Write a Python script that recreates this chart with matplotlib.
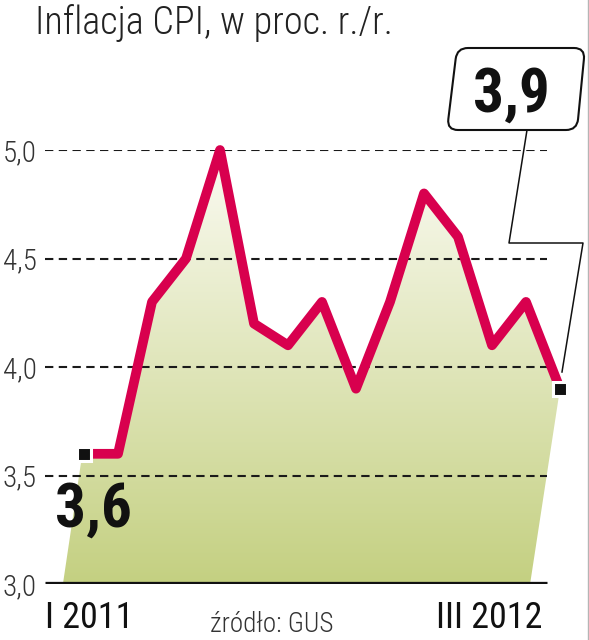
import numpy as np
import matplotlib.pyplot as plt
from matplotlib.colors import LinearSegmentedColormap
from matplotlib.patches import Polygon, PathPatch
from matplotlib.path import Path
from matplotlib.lines import Line2D

# CPI inflation y/y, I 2011 - III 2012 (source: GUS)
months = ['I', 'II', 'III', 'IV', 'V', 'VI', 'VII', 'VIII', 'IX', 'X', 'XI', 'XII', 'I', 'II', 'III']
cpi = [3.6, 3.6, 4.3, 4.5, 5.0, 4.2, 4.1, 4.3, 3.9, 4.3, 4.8, 4.6, 4.1, 4.3, 3.9]
y_ticks = [3.0, 3.5, 4.0, 4.5, 5.0]
y_labels = ['3,0', '3,5', '4,0', '4,5', '5,0']
x_labels = ['I 2011', 'III 2012']
title = 'Inflacja CPI, w proc. r./r.'
source = 'źródło: GUS'

COND = 'Roboto Condensed'
RED = '#d8004e'
W, H = 589, 640


def fx(px):
    return px / W


def fy(py):
    return 1 - py / H


def rounded_poly(pts, r):
    # polygon with rounded corners, in pixel coords -> figure fraction
    verts, codes = [], []
    n = len(pts)
    for i in range(n):
        p = np.array(pts[i], float)
        a = np.array(pts[i - 1], float)
        b = np.array(pts[(i + 1) % n], float)
        ua = (a - p) / np.linalg.norm(a - p)
        ub = (b - p) / np.linalg.norm(b - p)
        verts += [p + ua * r, p, p + ub * r]
        codes += [Path.LINETO if i else Path.MOVETO, Path.CURVE3, Path.CURVE3]
    verts.append(verts[0])
    codes.append(Path.CLOSEPOLY)
    verts = [(fx(v[0]), fy(v[1])) for v in verts]
    return Path(verts, codes)


fig = plt.figure(figsize=(W / 100, H / 100), dpi=100)
ax = fig.add_axes([fx(45), 56 / H, 544 / W, 434 / H])

x = np.arange(len(cpi))
step = 34.0  # px per month
ax.set_xlim(-39 / step, 505 / step)
ax.set_ylim(3.0, 5.0)
for s in ax.spines.values():
    s.set_visible(False)
ax.set_xticks([])
ax.set_yticks(y_ticks, labels=y_labels)
ax.tick_params(axis='y', length=0, pad=5.8)
for lab in ax.get_yticklabels():
    lab.set_fontfamily(COND)
    lab.set_fontweight('light')
    lab.set_fontsize(21)
    lab.set_color('#333333')

# gradient area under the line, with slanted sides
verts = [(x[0] - 0.62, 3.0), (x[0] - 0.05, cpi[0])] + list(zip(x, cpi)) + [(x[-1] - 0.88, 3.0)]
poly = Polygon(verts, closed=True, facecolor='none', edgecolor='none')
ax.add_patch(poly)
cmap = LinearSegmentedColormap.from_list('grn', ['#c4d081', '#fbfbf3'])
grad = np.linspace(1, 0, 256).reshape(-1, 1)
im = ax.imshow(grad, extent=(-1.2, 15, 3.0, 5.0), origin='upper', aspect='auto',
               cmap=cmap, zorder=1)
im.set_clip_path(poly)

# grid + base line
gx = (547 - 45) / 544
for t in y_ticks[1:]:
    ax.axhline(t, xmax=gx, color='#1a1a1a', lw=1.5, ls=(0, (4, 2.6)), zorder=2)
ax.axhline(3.0, xmax=gx, color='#111111', lw=3.8, zorder=2, solid_capstyle='butt')

ax.plot(x, cpi, color=RED, lw=7, solid_joinstyle='round', solid_capstyle='butt',
        zorder=3, clip_on=False)
ax.plot([x[0], x[-1]], [cpi[0], cpi[-1]], 's', ms=9.5, mfc='#111111', mec='white',
        mew=2.2, zorder=4, clip_on=False)

first_txt = f'{cpi[0]:.1f}'.replace('.', ',')
last_txt = f'{cpi[-1]:.1f}'.replace('.', ',')
ax.annotate(first_txt, (x[0], cpi[0]), xytext=(6.5, -52.5), textcoords='offset points',
            ha='center', va='baseline', fontsize=44, fontweight='bold',
            family=COND, color='#111111', zorder=5)

# callout box for the latest value
box = rounded_poly([(457, 48), (585, 48), (577, 130), (447, 130)], 11)
fig.add_artist(PathPatch(box, transform=fig.transFigure, fc='white', ec='#111111', lw=1.5))
pointer = [(527, 130), (509, 243), (583, 243), (562, 372)]
fig.add_artist(Line2D([fx(p[0]) for p in pointer], [fy(p[1]) for p in pointer],
                      transform=fig.transFigure, color='#111111', lw=1.1))
fig.text(fx(511), fy(112), last_txt, ha='center', va='baseline', fontsize=44,
         fontweight='bold', family=COND, color='#111111')

fig.text(fx(35), fy(34), title, fontsize=27.5, family=COND, fontweight='light',
         color='#222222', va='baseline')
fig.text(fx(45), fy(628), x_labels[0], fontsize=26, family=COND, color='#111111', va='baseline')
fig.text(fx(436), fy(628), x_labels[1], fontsize=26, family=COND, color='#111111', va='baseline')
fig.text(fx(210), fy(632), source, fontsize=19.5, family=COND, fontweight='light',
         color='#333333', va='baseline')

# page edge
fig.add_artist(Line2D([fx(587.5)] * 2, [0, 1], transform=fig.transFigure, color='#b5b5b5', lw=1))

fig.savefig('out.png', dpi=100)
